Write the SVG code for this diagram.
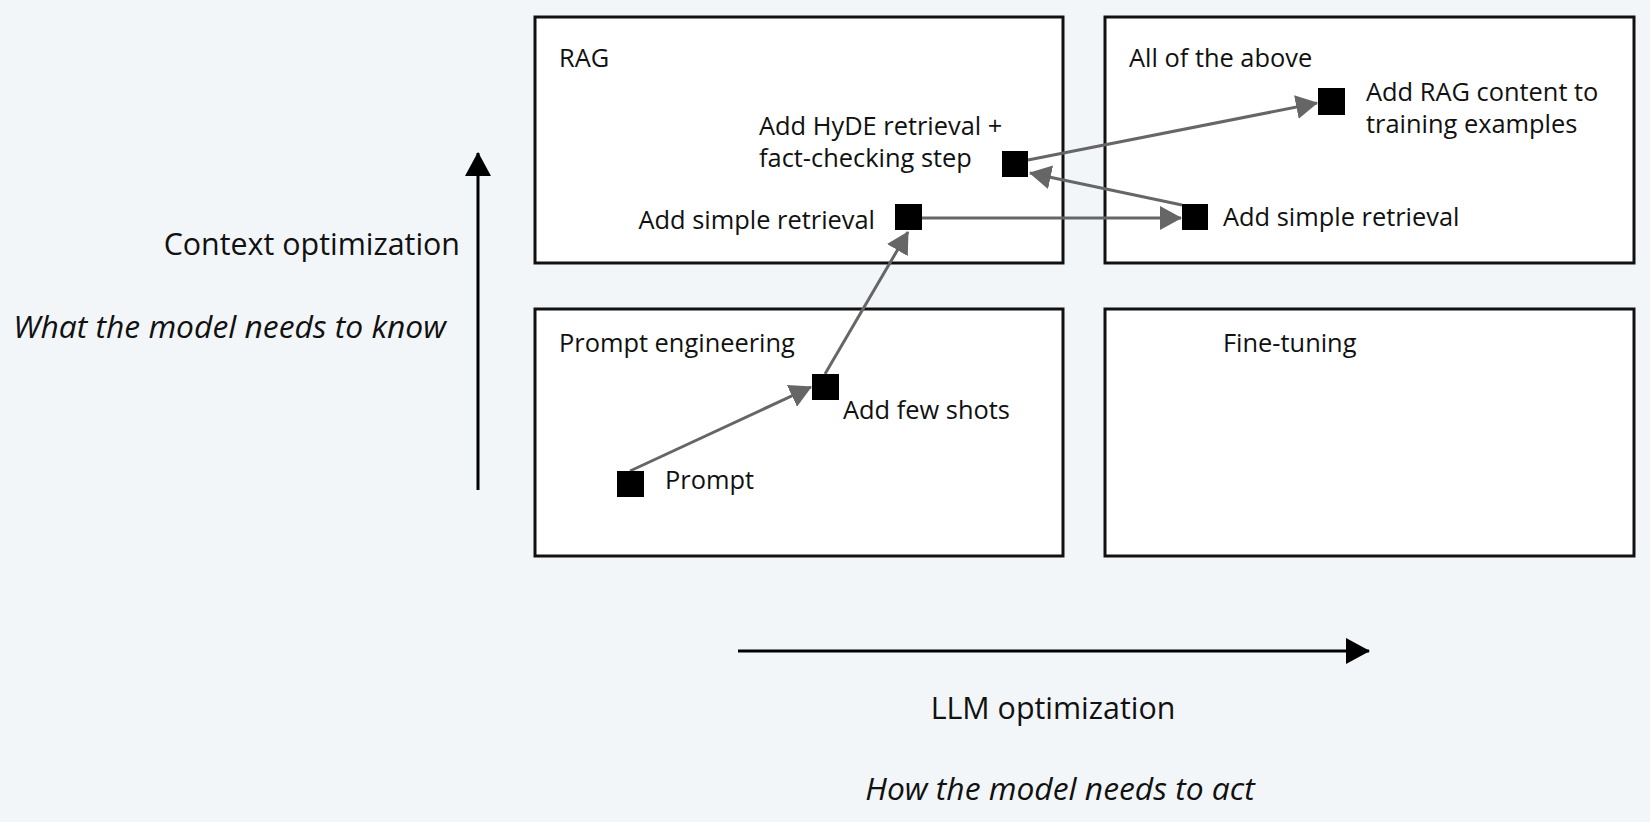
<svg xmlns="http://www.w3.org/2000/svg" width="1650" height="822" viewBox="0 0 1650 822">
  <style>
    .box { fill: #ffffff; stroke: #111111; stroke-width: 3; }
    .pt { fill: #000000; }
    .t { font-family: "Open Sans", "Liberation Sans", sans-serif; font-size: 25.4px; fill: #111111; }
    .ax { font-family: "Open Sans", "Liberation Sans", sans-serif; font-size: 30.4px; fill: #111111; }
    .axi { font-family: "Open Sans", "Liberation Sans", sans-serif; font-size: 31.8px; font-style: italic; fill: #111111; }
    .conn { stroke: #666666; stroke-width: 3; fill: none; marker-end: url(#gray); }
    .axis { stroke: #000000; stroke-width: 3; fill: none; marker-end: url(#black); }
  </style>
  <defs>
    <marker id="gray" markerUnits="userSpaceOnUse" markerWidth="22" markerHeight="24" refX="21" refY="12" orient="auto">
      <path d="M0,0 L22,12 L0,24 z" fill="#666666"/>
    </marker>
    <marker id="black" markerUnits="userSpaceOnUse" markerWidth="24" markerHeight="26" refX="23" refY="13" orient="auto">
      <path d="M0,0 L24,13 L0,26 z" fill="#000000"/>
    </marker>
  </defs>
  <rect x="0" y="0" width="1650" height="822" fill="#f3f6f9"/>

  <g id="quadrant-rag">
    <rect class="box" x="535" y="17" width="528" height="246"/>
    <text class="t" x="559" y="67">RAG</text>
  </g>
  <g id="quadrant-all">
    <rect class="box" x="1105" y="17" width="529" height="246"/>
    <text class="t" x="1129" y="67">All of the above</text>
  </g>
  <g id="quadrant-prompt">
    <rect class="box" x="535" y="309" width="528" height="247"/>
    <text class="t" x="559" y="352">Prompt engineering</text>
  </g>
  <g id="quadrant-finetune">
    <rect class="box" x="1105" y="309" width="529" height="247"/>
    <text class="t" x="1223" y="352">Fine-tuning</text>
  </g>

  <g id="axes">
    <line class="axis" x1="478" y1="490" x2="478" y2="153"/>
    <text class="ax" x="460" y="255" text-anchor="end">Context optimization</text>
    <text class="axi" x="446" y="338" text-anchor="end">What the model needs to know</text>
    <line class="axis" x1="738" y1="651" x2="1369" y2="651"/>
    <text class="ax" x="1053" y="719" text-anchor="middle">LLM optimization</text>
    <text class="axi" x="1060" y="800" text-anchor="middle">How the model needs to act</text>
  </g>

  <g id="connectors">
    <line class="conn" x1="630" y1="471" x2="811" y2="387"/>
    <line class="conn" x1="825" y1="374" x2="908" y2="232"/>
    <line class="conn" x1="922" y1="218" x2="1181" y2="218"/>
    <line class="conn" x1="1182" y1="205" x2="1030" y2="173"/>
    <line class="conn" x1="1028" y1="160" x2="1317" y2="103"/>
  </g>

  <g id="node-prompt">
    <rect class="pt" x="617" y="471" width="27" height="26"/>
    <text class="t" x="665" y="489">Prompt</text>
  </g>
  <g id="node-fewshots">
    <rect class="pt" x="812" y="374" width="27" height="26"/>
    <text class="t" x="843" y="419">Add few shots</text>
  </g>
  <g id="node-simple-rag">
    <rect class="pt" x="895" y="204" width="27" height="26"/>
    <text class="t" x="875" y="229" text-anchor="end">Add simple retrieval</text>
  </g>
  <g id="node-hyde">
    <rect class="pt" x="1002" y="151" width="26" height="26"/>
    <text class="t" x="759" y="135">Add HyDE retrieval +</text>
    <text class="t" x="759" y="167">fact-checking step</text>
  </g>
  <g id="node-simple-all">
    <rect class="pt" x="1182" y="204" width="26" height="26"/>
    <text class="t" x="1223" y="226">Add simple retrieval</text>
  </g>
  <g id="node-ragcontent">
    <rect class="pt" x="1318" y="88" width="27" height="27"/>
    <text class="t" x="1366" y="101">Add RAG content to</text>
    <text class="t" x="1366" y="133">training examples</text>
  </g>
</svg>
